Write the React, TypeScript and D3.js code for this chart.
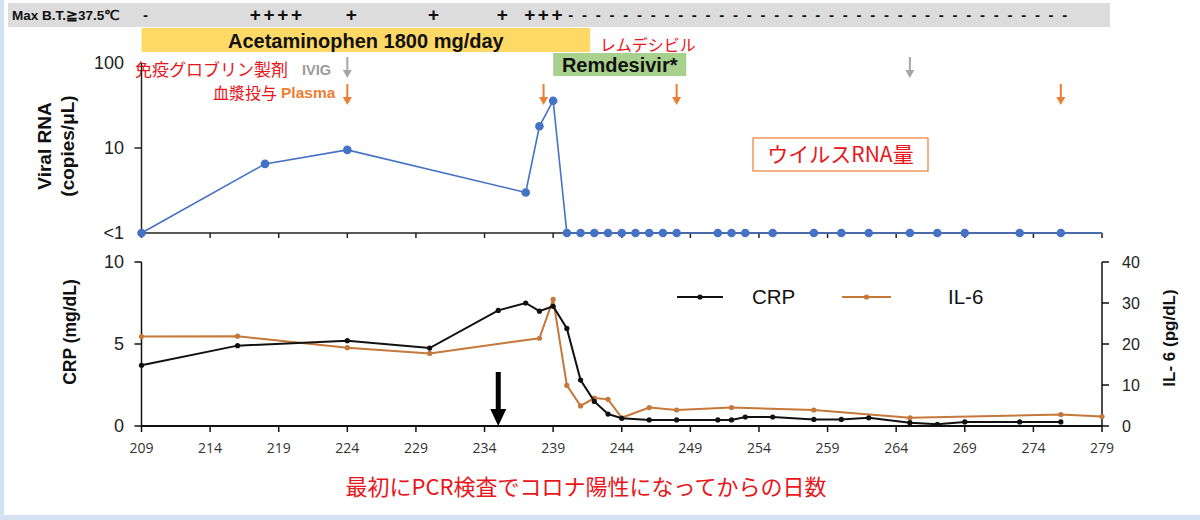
import React from 'react';
import * as d3 from 'd3';

// ---------- data ----------
const dayTicks = [209, 214, 219, 224, 229, 234, 239, 244, 249, 254, 259, 264, 269, 274, 279];
const rnaTickValues = [1, 10, 100];
const rnaTickLabels = ['<1', '10', '100'];
const crpTicks = [0, 5, 10];
const il6Ticks = [0, 10, 20, 30, 40];

// Viral RNA (copies/μL); 1 means "<1"
const rnaDays = [209, 218, 224, 237, 238, 239, 240, 241, 242, 243, 244, 245, 246, 247, 248, 251, 252, 253, 255, 258, 260, 262, 265, 267, 269, 273, 276];
const rnaValues = [1, 6.5, 9.5, 3.0, 18, 36, 1, 1, 1, 1, 1, 1, 1, 1, 1, 1, 1, 1, 1, 1, 1, 1, 1, 1, 1, 1, 1];

// CRP (mg/dL)
const crpDays = [209, 216, 224, 230, 235, 237, 238, 239, 240, 241, 242, 243, 244, 246, 248, 251, 252, 253, 255, 258, 260, 262, 265, 267, 269, 273, 276];
const crpValues = [3.7, 4.9, 5.2, 4.75, 7.05, 7.5, 7.0, 7.3, 5.95, 2.8, 1.5, 0.73, 0.47, 0.37, 0.37, 0.37, 0.37, 0.55, 0.55, 0.4, 0.4, 0.5, 0.2, 0.1, 0.25, 0.25, 0.25];

// IL-6 (pg/dL)
const il6Days = [209, 216, 224, 230, 238, 239, 240, 241, 242, 243, 244, 246, 248, 252, 258, 265, 276, 279];
const il6Values = [21.8, 21.9, 19.1, 17.7, 21.4, 30.9, 9.9, 4.9, 6.8, 6.5, 2.0, 4.5, 3.9, 4.5, 3.9, 2.0, 2.8, 2.3];

// Max body temperature >= 37.5 marks per day
const feverDays = [209, 217, 218, 219, 220, 224, 230, 235, 237, 238, 239,
  240, 241, 242, 243, 244, 245, 246, 247, 248, 249, 250, 251, 252, 253, 254, 255, 256, 257, 258,
  259, 260, 261, 262, 263, 264, 265, 266, 267, 268, 269, 270, 271, 272, 273, 274, 275, 276];
const feverMarks = ['-', '+', '+', '+', '+', '+', '+', '+', '+', '+', '+',
  '-', '-', '-', '-', '-', '-', '-', '-', '-', '-', '-', '-', '-', '-', '-', '-', '-', '-', '-',
  '-', '-', '-', '-', '-', '-', '-', '-', '-', '-', '-', '-', '-', '-', '-', '-', '-', '-'];

// Treatments
const acetaminophenPeriod = [209, 241.7];
const remdesivirPeriod = [239, 248.7];
const ivigDays = [224, 265];
const plasmaDays = [224, 238.3, 248, 276];
const blackArrowDay = 235;

// ---------- styling ----------
const W = 1200;
const H = 520;
const LATIN = "'Liberation Sans', Arial, sans-serif";
const CJK = "'Noto Sans CJK JP', 'Liberation Sans', sans-serif";
const BLUE = '#4472C4';
const ORANGE_LINE = '#C5783A';
const ORANGE = '#ED7D31';
const GRAY_ARROW = '#A6A6A6';
const RED = '#E8161B';

function DownArrow({ x, y1, y2, color, shaft = 2, headW = 9, headH = 8 }: any) {
  return (
    <g>
      <line x1={x} x2={x} y1={y1} y2={y2 - headH + 1} stroke={color} strokeWidth={shaft} />
      <path d={`M${x - headW / 2},${y2 - headH} L${x + headW / 2},${y2 - headH} L${x},${y2} Z`} fill={color} />
    </g>
  );
}

export default function App() {
  const x = d3.scaleLinear().domain([209, 279]).range([141.5, 1102]);
  const yRna = d3.scaleLog().domain([1, 100]).range([233, 63]);
  const yCrp = d3.scaleLinear().domain([0, 10]).range([426, 262]);
  const yIl6 = d3.scaleLinear().domain([0, 40]).range([426, 262]);

  const rnaPts = rnaDays.map((d, i) => [d, rnaValues[i]] as [number, number]);
  const crpPts = crpDays.map((d, i) => [d, crpValues[i]] as [number, number]);
  const il6Pts = il6Days.map((d, i) => [d, il6Values[i]] as [number, number]);

  const rnaLine = d3.line<[number, number]>().x(d => x(d[0])).y(d => yRna(d[1]))(rnaPts) || '';
  const crpLine = d3.line<[number, number]>().x(d => x(d[0])).y(d => yCrp(d[1]))(crpPts) || '';
  const il6Line = d3.line<[number, number]>().x(d => x(d[0])).y(d => yIl6(d[1]))(il6Pts) || '';

  const lastRna = rnaPts[rnaPts.length - 1];
  const x0 = x(209);
  const xEnd = x(279);

  return (
    <div style={{ position: 'fixed', left: 0, top: 0, width: W, height: H, background: '#fff' }}>
      <svg width={W} height={H} viewBox={`0 0 ${W} ${H}`} style={{ display: 'block' }}>
        <rect x={0} y={0} width={W} height={H} fill="#fff" />
        {/* frame */}
        <rect x={0} y={0} width={4} height={H} fill="#D3E2F2" />
        <rect x={0} y={515} width={W} height={5} fill="#D3E2F2" />

        {/* fever band */}
        <rect x={8} y={3} width={1102} height={24} fill="#DCDCDC" />
        <text x={12} y={20} fontFamily={LATIN} fontSize={13.5} fontWeight={700} fill="#111">Max B.T.≧37.5℃</text>
        {feverDays.map((d, i) => (
          <text key={'f' + i} x={x(d) + 4} y={feverMarks[i] === '+' ? 21 : 20} textAnchor="middle"
            fontFamily={LATIN} fontSize={feverMarks[i] === '+' ? 19 : 15} fontWeight={700} fill="#111">
            {feverMarks[i]}
          </text>
        ))}

        {/* acetaminophen */}
        <rect x={x(acetaminophenPeriod[0])} y={28} width={x(acetaminophenPeriod[1]) - x(acetaminophenPeriod[0])} height={24} fill="#FFD966" />
        <text x={(x(acetaminophenPeriod[0]) + x(acetaminophenPeriod[1])) / 2} y={47.5} textAnchor="middle"
          fontFamily={LATIN} fontSize={20} fontWeight={700} fill="#111">Acetaminophen 1800 mg/day</text>

        {/* remdesivir */}
        <text x={600} y={51} fontFamily={CJK} fontSize={16} fill={RED}>レムデシビル</text>
        <rect x={x(remdesivirPeriod[0])} y={53} width={x(remdesivirPeriod[1]) - x(remdesivirPeriod[0])} height={23} fill="#A9D18E" />
        <text x={(x(remdesivirPeriod[0]) + x(remdesivirPeriod[1])) / 2} y={72} textAnchor="middle"
          fontFamily={LATIN} fontSize={20} fontWeight={700} fill="#111">Remdesivir*</text>

        {/* IVIG / plasma labels */}
        <text x={135} y={76} fontFamily={CJK} fontSize={17} fill={RED}>免疫グロブリン製剤</text>
        <text x={302} y={75} fontFamily={LATIN} fontSize={14.5} fontWeight={700} fill="#9A9A9A">IVIG</text>
        <text x={213} y={99} fontFamily={CJK} fontSize={16} fill={RED}>血漿投与</text>
        <text x={281} y={98} fontFamily={LATIN} fontSize={15.5} fontWeight={700} fill={ORANGE}>Plasma</text>
        {ivigDays.map((d, i) => (
          <DownArrow key={'iv' + i} x={x(d)} y1={57} y2={78} color={GRAY_ARROW} />
        ))}
        {plasmaDays.map((d, i) => (
          <DownArrow key={'pl' + i} x={x(d)} y1={84} y2={105} color={ORANGE} />
        ))}

        {/* ---- Viral RNA panel ---- */}
        <text transform="translate(51,146) rotate(-90)" textAnchor="middle" fontFamily={LATIN} fontSize={19} fontWeight={700} fill="#111">Viral RNA</text>
        <text transform="translate(74,146) rotate(-90)" textAnchor="middle" fontFamily={LATIN} fontSize={19} fontWeight={700} fill="#111">(copies/μL)</text>
        {rnaTickValues.map((v, i) => (
          <text key={'rt' + i} x={124} y={yRna(v) + 6} textAnchor="end" fontFamily={LATIN} fontSize={18} fill="#222">{rnaTickLabels[i]}</text>
        ))}
        <line x1={x0} x2={x0} y1={yRna(100)} y2={yRna(1)} stroke="#222" strokeWidth={1.5} />
        <line x1={x0 - 7} x2={x0} y1={yRna(10)} y2={yRna(10)} stroke="#222" strokeWidth={1.5} />
        <line x1={x0} x2={xEnd} y1={yRna(1)} y2={yRna(1)} stroke="#222" strokeWidth={1.5} />
        {dayTicks.map((d, i) => (
          <line key={'tt' + i} x1={x(d)} x2={x(d)} y1={yRna(1)} y2={yRna(1) + 5} stroke="#222" strokeWidth={1.5} />
        ))}
        <path d={rnaLine} fill="none" stroke={BLUE} strokeWidth={1.6} />
        <line x1={x(lastRna[0])} x2={xEnd} y1={yRna(lastRna[1])} y2={yRna(lastRna[1])} stroke={BLUE} strokeWidth={1.6} />
        {rnaPts.map((p, i) => (
          <circle key={'rp' + i} cx={x(p[0])} cy={yRna(p[1])} r={4.3} fill={BLUE} />
        ))}
        <rect x={753} y={138} width={175} height={33} fill="#fff" stroke={ORANGE} strokeWidth={1.2} />
        <text x={840.5} y={162} textAnchor="middle" fontFamily={CJK} fontSize={21} fill={RED}>ウイルスRNA量</text>

        {/* ---- CRP / IL-6 panel ---- */}
        <text transform="translate(76,332) rotate(-90)" textAnchor="middle" fontFamily={LATIN} fontSize={17.5} fontWeight={700} fill="#111">CRP (mg/dL)</text>
        <text transform="translate(1175,338) rotate(-90)" textAnchor="middle" fontFamily={LATIN} fontSize={17} fontWeight={700} fill="#111">IL- 6 (pg/dL)</text>
        <line x1={x0} x2={x0} y1={yCrp(10)} y2={yCrp(0)} stroke="#111" strokeWidth={1.5} />
        {crpTicks.map((v, i) => (
          <g key={'ct' + i}>
            <line x1={x0 - 7} x2={x0} y1={yCrp(v)} y2={yCrp(v)} stroke="#111" strokeWidth={1.5} />
            <text x={124} y={yCrp(v) + 6} textAnchor="end" fontFamily={LATIN} fontSize={18} fill="#222">{v}</text>
          </g>
        ))}
        <line x1={xEnd} x2={xEnd} y1={yIl6(40)} y2={yIl6(0)} stroke="#111" strokeWidth={1.5} />
        {il6Ticks.map((v, i) => (
          <g key={'it' + i}>
            <line x1={xEnd} x2={xEnd + 7} y1={yIl6(v)} y2={yIl6(v)} stroke="#111" strokeWidth={1.5} />
            <text x={1122} y={yIl6(v) + 6} textAnchor="start" fontFamily={LATIN} fontSize={16} fill="#222">{v}</text>
          </g>
        ))}
        <line x1={x0} x2={xEnd} y1={yCrp(0)} y2={yCrp(0)} stroke="#111" strokeWidth={1.8} />
        {dayTicks.map((d, i) => (
          <g key={'bt' + i}>
            <line x1={x(d)} x2={x(d)} y1={yCrp(0)} y2={yCrp(0) + 6} stroke="#111" strokeWidth={1.5} />
            <text x={x(d)} y={453} textAnchor="middle" fontFamily="'Open Sans', sans-serif" fontSize={14} fill="#333">{d}</text>
          </g>
        ))}

        <path d={il6Line} fill="none" stroke={ORANGE_LINE} strokeWidth={2} />
        {il6Pts.map((p, i) => (
          <circle key={'ip' + i} cx={x(p[0])} cy={yIl6(p[1])} r={2.6} fill={ORANGE_LINE} />
        ))}
        <path d={crpLine} fill="none" stroke="#111" strokeWidth={2} />
        {crpPts.map((p, i) => (
          <circle key={'cp' + i} cx={x(p[0])} cy={yCrp(p[1])} r={2.6} fill="#111" />
        ))}

        {/* legend */}
        <line x1={677} x2={723} y1={297} y2={297} stroke="#111" strokeWidth={2} />
        <circle cx={700} cy={297} r={2.6} fill="#111" />
        <text x={752} y={304} fontFamily={LATIN} fontSize={20.5} fill="#111">CRP</text>
        <line x1={842} x2={891} y1={297} y2={297} stroke={ORANGE_LINE} strokeWidth={2} />
        <circle cx={866.5} cy={297} r={2.6} fill={ORANGE_LINE} />
        <text x={948} y={304} fontFamily={LATIN} fontSize={20.5} fill="#111">IL-6</text>

        {/* black arrow */}
        <DownArrow x={x(blackArrowDay)} y1={372} y2={426} color="#000" shaft={5} headW={16} headH={17} />

        {/* x title */}
        <text x={586} y={495} textAnchor="middle" fontFamily={CJK} fontSize={22} fill={RED}>最初にPCR検査でコロナ陽性になってからの日数</text>
      </svg>
    </div>
  );
}
